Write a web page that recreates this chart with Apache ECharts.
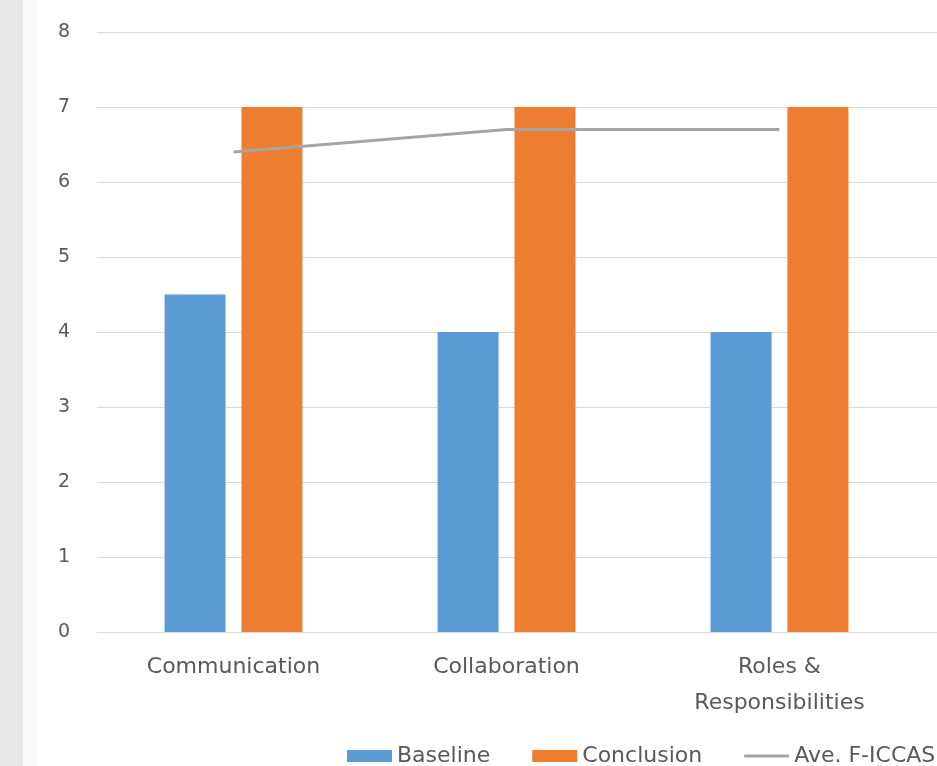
<!DOCTYPE html>
<html>
<head>
<meta charset="utf-8">
<script src="https://cdn.jsdelivr.net/npm/echarts@6/dist/echarts.min.js"></script>
<style>
  html, body {
    margin: 0;
    padding: 0;
    width: 937px;
    height: 766px;
    overflow: hidden;
    background: linear-gradient(to right, #e7e7e7 0, #e7e7e7 23px, #f8f8f8 23px, #f8f8f8 38px, #ffffff 38px);
  }
  #main { width: 1200px; height: 766px; }
</style>
</head>
<body>
<div id="main"></div>
<script>
  // categories and values
  var categories = ['Communication', 'Collaboration', 'Roles &\nResponsibilities'];
  var baseline = [4.5, 4, 4];
  var conclusion = [7, 7, 7];
  var aveFiccas = [6.4, 6.7, 6.7];
  var yTicks = [0, 1, 2, 3, 4, 5, 6, 7, 8];

  var textColor = '#595959';
  var font = 'DejaVu Sans';

  var myChart = echarts.init(document.getElementById('main'));

  var option = {
    backgroundColor: 'transparent',
    animation: false,
    textStyle: { fontFamily: font, color: textColor },
    grid: { left: 97, right: 11, top: 32, bottom: 134 },
    legend: {
      left: 342,
      top: 740,
      itemWidth: 45,
      itemHeight: 12,
      itemGap: 42,
      textStyle: { fontFamily: font, fontSize: 22, color: textColor },
      data: [
        { name: 'Baseline', icon: 'rect' },
        { name: 'Conclusion', icon: 'rect' },
        // thin stripe for the line entry, no marker
        { name: 'Ave. F-ICCAS', icon: 'path://M0,0L0,0M0,4.5h45v3h-45zM45,12L45,12' }
      ]
    },
    xAxis: {
      type: 'category',
      data: categories,
      // the picture is cut on the right: a fourth, empty band continues past the edge
      max: categories.length,
      axisTick: { show: false },
      axisLine: { lineStyle: { color: '#d9d9d9', width: 1 } },
      axisLabel: {
        fontFamily: font,
        fontSize: 22,
        color: textColor,
        lineHeight: 36,
        margin: 17
      }
    },
    yAxis: {
      type: 'value',
      min: yTicks[0],
      max: yTicks[yTicks.length - 1],
      interval: 1,
      axisLine: { show: false },
      axisTick: { show: false },
      splitLine: { lineStyle: { color: '#d9d9d9', width: 1 } },
      axisLabel: { fontFamily: font, fontSize: 19, color: textColor, margin: 27 }
    },
    series: [
      {
        name: 'Baseline',
        type: 'bar',
        data: baseline,
        barCategoryGap: '49.5%',
        barGap: '26%',
        itemStyle: { color: '#5b9bd5' }
      },
      {
        name: 'Conclusion',
        type: 'bar',
        data: conclusion,
        itemStyle: { color: '#ed7d31' }
      },
      {
        name: 'Ave. F-ICCAS',
        type: 'line',
        data: aveFiccas,
        symbol: 'none',
        z: 5,
        lineStyle: { color: '#a5a5a5', width: 3 },
        itemStyle: { color: '#a5a5a5' }
      }
    ]
  };

  myChart.setOption(option);
</script>
</body>
</html>
